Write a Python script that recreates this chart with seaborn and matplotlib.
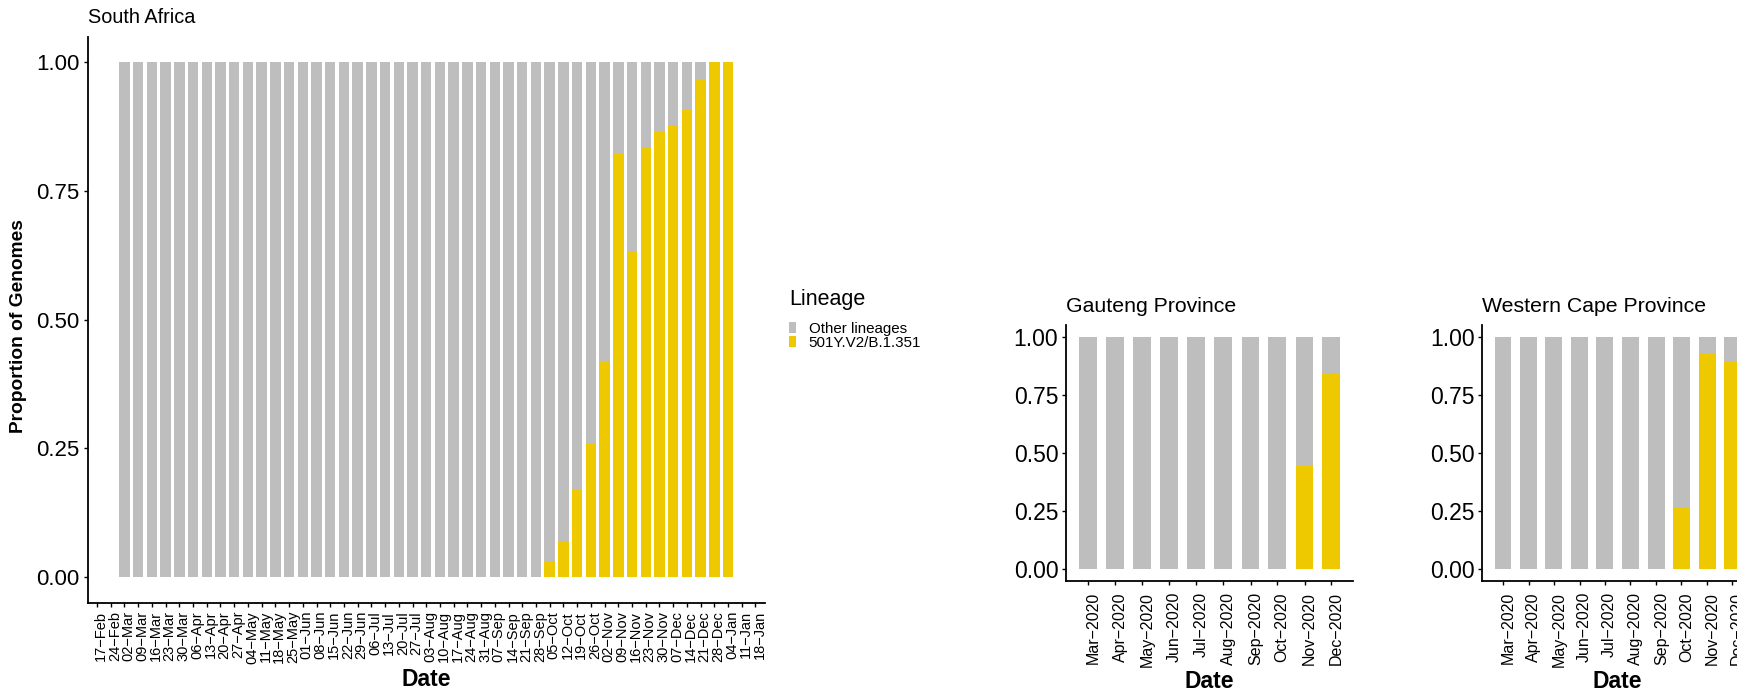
import numpy as np
import pandas as pd
import matplotlib
matplotlib.use("Agg")
import matplotlib.pyplot as plt
import matplotlib.dates as mdates
import matplotlib.transforms as mtrans
from matplotlib.patches import Patch
import seaborn as sns

# ---------------- data ----------------
lineages = ["Other lineages", "501Y.V2/B.1.351"]
lineage_colors = ["#BEBEBE", "#EEC900"]

# weekly axis breaks (South Africa)
week_ticks = ["2020-02-17", "2020-02-24", "2020-03-02", "2020-03-09", "2020-03-16",
              "2020-03-23", "2020-03-30", "2020-04-06", "2020-04-13", "2020-04-20",
              "2020-04-27", "2020-05-04", "2020-05-11", "2020-05-18", "2020-05-25",
              "2020-06-01", "2020-06-08", "2020-06-15", "2020-06-22", "2020-06-29",
              "2020-07-06", "2020-07-13", "2020-07-20", "2020-07-27", "2020-08-03",
              "2020-08-10", "2020-08-17", "2020-08-24", "2020-08-31", "2020-09-07",
              "2020-09-14", "2020-09-21", "2020-09-28", "2020-10-05", "2020-10-12",
              "2020-10-19", "2020-10-26", "2020-11-02", "2020-11-09", "2020-11-16",
              "2020-11-23", "2020-11-30", "2020-12-07", "2020-12-14", "2020-12-21",
              "2020-12-28", "2021-01-04", "2021-01-11", "2021-01-18"]
week_labels = ["17−Feb", "24−Feb", "02−Mar", "09−Mar", "16−Mar", "23−Mar", "30−Mar",
               "06−Apr", "13−Apr", "20−Apr", "27−Apr", "04−May", "11−May", "18−May",
               "25−May", "01−Jun", "08−Jun", "15−Jun", "22−Jun", "29−Jun", "06−Jul",
               "13−Jul", "20−Jul", "27−Jul", "03−Aug", "10−Aug", "17−Aug", "24−Aug",
               "31−Aug", "07−Sep", "14−Sep", "21−Sep", "28−Sep", "05−Oct", "12−Oct",
               "19−Oct", "26−Oct", "02−Nov", "09−Nov", "16−Nov", "23−Nov", "30−Nov",
               "07−Dec", "14−Dec", "21−Dec", "28−Dec", "04−Jan", "11−Jan", "18−Jan"]

# weekly bars (South Africa)
sa_weeks = ["2020-03-02", "2020-03-09", "2020-03-16", "2020-03-23", "2020-03-30",
            "2020-04-06", "2020-04-13", "2020-04-20", "2020-04-27", "2020-05-04",
            "2020-05-11", "2020-05-18", "2020-05-25", "2020-06-01", "2020-06-08",
            "2020-06-15", "2020-06-22", "2020-06-29", "2020-07-06", "2020-07-13",
            "2020-07-20", "2020-07-27", "2020-08-03", "2020-08-10", "2020-08-17",
            "2020-08-24", "2020-08-31", "2020-09-07", "2020-09-14", "2020-09-21",
            "2020-09-28", "2020-10-05", "2020-10-12", "2020-10-19", "2020-10-26",
            "2020-11-02", "2020-11-09", "2020-11-16", "2020-11-23", "2020-11-30",
            "2020-12-07", "2020-12-14", "2020-12-21", "2020-12-28", "2021-01-04"]
sa_variant = [0.0, 0.0, 0.0, 0.0, 0.0, 0.0, 0.0, 0.0, 0.0, 0.0,
              0.0, 0.0, 0.0, 0.0, 0.0, 0.0, 0.0, 0.0, 0.0, 0.0,
              0.0, 0.0, 0.0, 0.0, 0.0, 0.0, 0.0, 0.0, 0.0, 0.0,
              0.0, 0.030, 0.068, 0.168, 0.258, 0.417, 0.822, 0.633, 0.834, 0.865,
              0.879, 0.908, 0.967, 1.0, 1.0]

# monthly bars (provinces)
months = ["2020-03-01", "2020-04-01", "2020-05-01", "2020-06-01", "2020-07-01",
          "2020-08-01", "2020-09-01", "2020-10-01", "2020-11-01", "2020-12-01"]
month_labels = ["Mar−2020", "Apr−2020", "May−2020", "Jun−2020", "Jul−2020",
                "Aug−2020", "Sep−2020", "Oct−2020", "Nov−2020", "Dec−2020"]
gauteng_variant = [0.0, 0.0, 0.0, 0.0, 0.0, 0.0, 0.0, 0.0, 0.444, 0.839]
wcape_variant = [0.0, 0.0, 0.0, 0.0, 0.0, 0.0, 0.0, 0.263, 0.926, 0.893]

y_ticks = [0.0, 0.25, 0.5, 0.75, 1.0]
y_labels = ["0.00", "0.25", "0.50", "0.75", "1.00"]

# ---------------- style ----------------
sns.set_style("ticks")
plt.rcParams["font.family"] = ["Liberation Sans", "DejaVu Sans"]
plt.rcParams["axes.edgecolor"] = "black"
plt.rcParams["xtick.color"] = "black"
plt.rcParams["ytick.color"] = "black"
plt.rcParams["text.color"] = "black"
plt.rcParams["axes.labelcolor"] = "black"

W, H = 1737, 695
fig = plt.figure(figsize=(W / 100, H / 100), dpi=100)
fig.patch.set_facecolor("white")


def px_axes(left, top, right, bottom):
    return fig.add_axes([left / W, 1 - bottom / H, (right - left) / W, (bottom - top) / H])


title_sizes = {"South Africa": 14.3, "Gauteng Province": 15.3,
               "Western Cape Province": 15.3}


def draw_panel(ax, dates, variant, bar_width, xlim, ticks, tick_labels, title,
               xtick_size, ytick_size, label_shift, xpad):
    x = mdates.date2num(pd.to_datetime(dates))
    df = pd.DataFrame({"x": x,
                       "other": [1.0 - v for v in variant],
                       "variant": variant})
    df["total"] = df["other"] + df["variant"]
    sns.barplot(data=df, x="x", y="total", native_scale=True, color=lineage_colors[0],
                saturation=1, width=bar_width, errorbar=None, linewidth=0, ax=ax)
    sns.barplot(data=df, x="x", y="variant", native_scale=True, color=lineage_colors[1],
                saturation=1, width=bar_width, errorbar=None, linewidth=0, ax=ax)
    ax.set_xlim(xlim)
    ax.set_ylim(-0.05, 1.05)
    ax.set_xticks(mdates.date2num(pd.to_datetime(ticks)))
    ax.set_xticklabels(tick_labels, rotation=90, fontsize=xtick_size)
    ax.set_yticks(y_ticks)
    ax.set_yticklabels(y_labels, fontsize=ytick_size)
    ax.tick_params(axis="both", length=3, width=1.0, color="black")
    ax.tick_params(axis="x", pad=xpad)
    ax.tick_params(axis="y", pad=2.5)
    for s in ["left", "bottom"]:
        ax.spines[s].set_linewidth(1.3)
    sns.despine(ax=ax)
    ax.set_ylabel("")
    ax.set_xlabel("Date", fontsize=16.5, fontweight="bold")
    ax.set_title(title, loc="left", fontsize=title_sizes[title], pad=9.5)
    off = mtrans.ScaledTranslation(label_shift / 100, 0, fig.dpi_scale_trans)
    for lab in ax.get_xticklabels():
        lab.set_transform(lab.get_transform() + off)


def date_lim(first, last, width_days):
    lo = mdates.date2num(pd.Timestamp(first)) - width_days / 2
    hi = mdates.date2num(pd.Timestamp(last)) + width_days / 2
    pad = 0.05 * (hi - lo)
    return (lo - pad, hi + pad)


# main panel
ax_sa = px_axes(87.5, 36.5, 765, 602.6)
draw_panel(ax_sa, sa_weeks, sa_variant, 0.76,
           date_lim(sa_weeks[0], sa_weeks[-1], 6.3),
           week_ticks, week_labels, "South Africa", 10.5, 16, 4, 3)
ax_sa.xaxis.set_label_coords(0.5, -0.1155)
fig.text(19 / W, 1 - 326 / H, "Proportion of Genomes", rotation=90,
         ha="center", va="center", fontsize=13.8, fontweight="bold")

# Gauteng
ax_g = px_axes(1066, 325, 1353, 581)
draw_panel(ax_g, months, gauteng_variant, 0.667,
           date_lim(months[0], months[-1], 20),
           months, month_labels, "Gauteng Province", 11.5, 16.5, 5, 5)
ax_g.xaxis.set_label_coords(0.5, -0.348)

# Western Cape (panel runs off the right edge)
ax_w = px_axes(1482.3, 325, 1482.3 + 270.5, 581)
draw_panel(ax_w, months, wcape_variant, 0.667,
           date_lim(months[0], months[-1], 20),
           months, month_labels, "Western Cape Province", 11.5, 16.5, 5, 5)
ax_w.xaxis.set_label_coords(0.5, -0.348)

# legend
fig.text(789 / W, 1 - 289 / H, "Lineage", ha="left", va="top", fontsize=15.5)
handles = [Patch(facecolor=c, edgecolor="none") for c in lineage_colors]
fig.legend(handles, lineages, loc="upper left",
           bbox_to_anchor=(789 / W, 1 - 321.5 / H), frameon=False,
           fontsize=10.9, handlelength=0.45, handleheight=0.8, handletextpad=0.85,
           labelspacing=0.0, borderpad=0, borderaxespad=0)

fig.savefig("out.png", dpi=100, facecolor="white")
